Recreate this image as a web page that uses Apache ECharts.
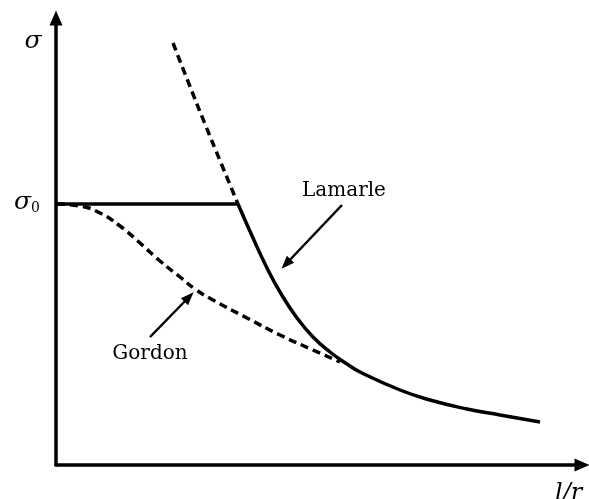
<!DOCTYPE html>
<html>
<head>
    <meta charset="utf-8">
    <script type="text/javascript" src="https://cdn.jsdelivr.net/npm/echarts@6/dist/echarts.min.js"></script>
</head>
<body style="margin: 0">
    <div id="container" style="height: 499px; width: 589px;"></div>
    <script type="text/javascript">
    // schematic units: x = slenderness l/r, y = stress sigma
    var sigma0Line = [[2, 261], [182, 261]];
    var lamarleDashed = [[117, 422], [133, 381], [149, 341], [165, 302], [182, 261]];
    var lamarleSolid = [[182, 261], [197, 227], [211, 197], [224, 173], [241, 147], [257, 128],
        [274, 113], [291, 101], [304, 93], [344, 75], [374, 65], [411, 56], [444, 50], [484, 43]];
    var gordon = [[1, 261], [24, 259], [44, 252], [64, 239], [84, 222], [104, 204], [124, 188],
        [139, 176], [157, 165], [191, 147], [224, 130], [257, 115], [284, 103]];
    // annotation arrows: [tail, head]
    var lamarleArrow = [[286, 260], [230, 201]];
    var gordonArrow = [[94, 128], [133, 168]];

    var dom = document.getElementById("container");
    var myChart = echarts.init(dom);
    var serif = 'DejaVu Serif';

    function arrowLine(pts) {
        return {
            silent: true,
            symbol: ['none', 'triangle'],
            symbolSize: [10, 13],
            label: { show: false },
            lineStyle: { color: '#000', width: 2.5, type: 'solid' },
            data: [[{ coord: pts[0] }, { coord: pts[1] }]]
        };
    }

    option = {
        animation: false,
        backgroundColor: '#fff',
        grid: { left: 56, right: 7, top: 18, bottom: 34 },
        xAxis: {
            type: 'value', min: 0, max: 526,
            splitLine: { show: false }, axisTick: { show: false }, axisLabel: { show: false },
            axisLine: { lineStyle: { color: '#000', width: 3.5 }, symbol: ['none', 'triangle'], symbolSize: [13, 15] }
        },
        yAxis: {
            type: 'value', min: 0, max: 447,
            splitLine: { show: false }, axisTick: { show: false }, axisLabel: { show: false },
            axisLine: { lineStyle: { color: '#000', width: 3.5 }, symbol: ['none', 'triangle'], symbolSize: [13, 15] }
        },
        series: [{
            type: 'line', data: sigma0Line, symbol: 'none',
            lineStyle: { color: '#000', width: 3.5 }
        }, {
            type: 'line', data: lamarleDashed, symbol: 'none', smooth: 0.5,
            lineStyle: { color: '#000', width: 3.5, type: [8, 5] }
        }, {
            type: 'line', data: lamarleSolid, symbol: 'none', smooth: 0.5,
            lineStyle: { color: '#000', width: 3.5 },
            markLine: arrowLine(lamarleArrow)
        }, {
            type: 'line', data: gordon, symbol: 'none', smooth: 0.5,
            lineStyle: { color: '#000', width: 3.5, type: [8, 5] },
            markLine: arrowLine(gordonArrow)
        }],
        graphic: [{
            type: 'text', x: 33, y: 41,
            style: { text: 'σ', font: 'italic 25px ' + serif, fill: '#000', align: 'center', verticalAlign: 'middle' }
        }, {
            type: 'text', x: 14, y: 202,
            style: {
                text: '{s|σ}{sub|0}', align: 'left', verticalAlign: 'middle',
                rich: {
                    s: { font: 'italic 25px ' + serif, fill: '#000' },
                    sub: { font: '14px ' + serif, fill: '#000', padding: [12, 0, 0, 0] }
                }
            }
        }, {
            type: 'text', x: 555, y: 494,
            style: { text: 'l/r', font: 'italic 24px ' + serif, fill: '#000', align: 'left', verticalAlign: 'middle' }
        }, {
            type: 'text', x: 344, y: 191,
            style: { text: 'Lamarle', font: '20px ' + serif, fill: '#000', align: 'center', verticalAlign: 'middle' }
        }, {
            type: 'text', x: 150, y: 354,
            style: { text: 'Gordon', font: '20px ' + serif, fill: '#000', align: 'center', verticalAlign: 'middle' }
        }]
    };

    myChart.setOption(option);
    </script>
</body>
</html>
